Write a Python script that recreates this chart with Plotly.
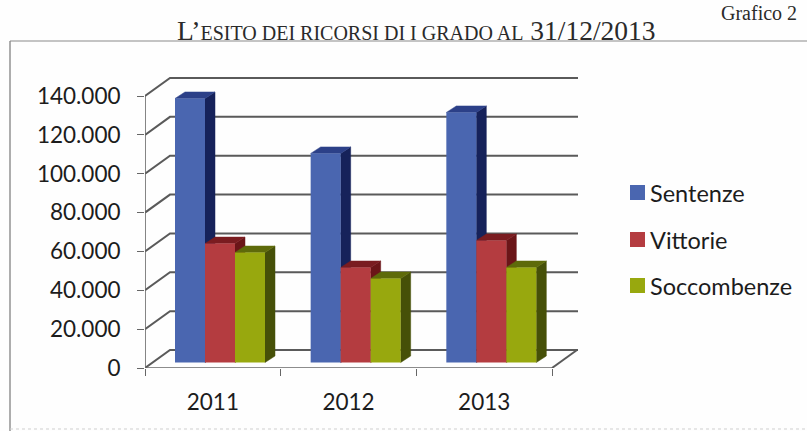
import plotly.graph_objects as go

categories = ["2011", "2012", "2013"]
sentenze = [135900, 107600, 128700]
vittorie = [61200, 48900, 62800]
soccombenze = [56600, 43200, 48900]
y_ticks = [0, 20000, 40000, 60000, 80000, 100000, 120000, 140000]
y_labels = ["0", "20.000", "40.000", "60.000", "80.000", "100.000", "120.000", "140.000"]

series = [
    ("Sentenze", sentenze, "#4A66B0", "#16225A", "#2C4088"),
    ("Vittorie", vittorie, "#B43C40", "#6B1518", "#7A1C20"),
    ("Soccombenze", soccombenze, "#98A80E", "#465008", "#5E6A0A"),
]

L, R, T, B = 145, 578, 76, 368      # plot-area pixel box
CAT = (552 - 145) / 3               # pixels per category
VAL = 272 / 140000                  # pixels per value unit
xr = [0, (R - L) / CAT]
yr = [0, (B - T) / VAL]
wall_dx, wall_dy = 25 / CAT, 18 / VAL
bar_w = 30 / CAT
bar_x0 = 30 / CAT
bar_base = 5.5 / VAL
bar_dx, bar_dy = 10 / CAT, 6.5 / VAL

GRID = "#5a5a5a"
fig = go.Figure()

# walls and floor
gx, gy = [], []
for v in y_ticks:
    gx += [0, wall_dx, xr[1], None]
    gy += [v, v + wall_dy, v + wall_dy, None]
gx += [3, 3 + wall_dx, None]
gy += [0, wall_dy, None]
fig.add_trace(go.Scatter(x=gx, y=gy, mode="lines", line=dict(color=GRID, width=2),
                         hoverinfo="skip", showlegend=False, cliponaxis=False))
fig.add_trace(go.Scatter(x=[0, 0, None, 0, 3], y=[0, y_ticks[-1], None, 0, 0], mode="lines",
                         line=dict(color="#666666", width=1.6),
                         hoverinfo="skip", showlegend=False, cliponaxis=False))


def poly(xs, ys, color):
    fig.add_trace(go.Scatter(x=xs + xs[:1], y=ys + ys[:1], mode="lines", fill="toself",
                             fillcolor=color, line=dict(color=color, width=0.5),
                             hoverinfo="skip", showlegend=False, cliponaxis=False))


# side and top faces, back to front
for c in range(len(categories)):
    for s, (name, vals, front, side, top) in enumerate(series):
        x0 = c + bar_x0 + s * bar_w
        x1 = x0 + bar_w
        y0, y1 = bar_base, bar_base + vals[c]
        poly([x1, x1 + bar_dx, x1 + bar_dx, x1],
             [y0, y0 + bar_dy, y1 + bar_dy, y1], side)
        poly([x0, x1, x1 + bar_dx, x0 + bar_dx],
             [y1, y1, y1 + bar_dy, y1 + bar_dy], top)

# front faces on an overlaying pair of axes, so they cover the side faces
for s, (name, vals, front, side, top) in enumerate(series):
    fig.add_trace(go.Bar(
        x=[c + bar_x0 + (s + 0.5) * bar_w for c in range(len(categories))],
        y=vals, base=[bar_base] * len(vals), width=bar_w, name=name,
        marker=dict(color=front, line=dict(width=0)),
        xaxis="x2", yaxis="y2", showlegend=False))

text_font = dict(family="Lato, 'Noto Sans', sans-serif", size=22.5, color="#1c1c1c")
legend_font = dict(family="Lato, 'Noto Sans', sans-serif", size=23.5, color="#1c1c1c")
fig.update_layout(
    width=807, height=431, margin=dict(l=L, r=807 - R, t=T, b=431 - B),
    paper_bgcolor="#fefefe", plot_bgcolor="rgba(0,0,0,0)", barmode="overlay",
    showlegend=False, font=text_font,
    xaxis=dict(range=xr, showgrid=False, zeroline=False, showline=False,
               tickmode="array", tickvals=[0.5, 1.5, 2.5], ticktext=categories,
               ticks="", ticklabelstandoff=18,
               minor=dict(tickmode="array", tickvals=[0, 1, 2, 3], ticks="outside",
                          ticklen=7, tickwidth=1.2, tickcolor="#666666", showgrid=False)),
    yaxis=dict(range=yr, showgrid=False, zeroline=False, showline=False,
               tickmode="array", tickvals=y_ticks, ticktext=y_labels,
               ticks="outside", ticklen=7, tickwidth=1.2, tickcolor="#666666",
               ticklabelstandoff=12),
    xaxis2=dict(range=xr, overlaying="x", visible=False),
    yaxis2=dict(range=yr, overlaying="y", visible=False),
    shapes=[
        dict(type="line", xref="paper", yref="paper", x0=(10 - L) / (R - L), x1=(807 - L) / (R - L),
             y0=(B - 41) / (B - T), y1=(B - 41) / (B - T), line=dict(color="#8a8a8a", width=1.2)),
        dict(type="line", xref="paper", yref="paper", x0=(10 - L) / (R - L), x1=(10 - L) / (R - L),
             y0=(B - 41) / (B - T), y1=(B - 431) / (B - T), line=dict(color="#8a8a8a", width=1.4)),
        dict(type="line", xref="paper", yref="paper", x0=(10 - L) / (R - L), x1=(807 - L) / (R - L),
             y0=(B - 429) / (B - T), y1=(B - 429) / (B - T),
             line=dict(color="#cfcfcf", width=1, dash="dot")),
    ],
)

# legend drawn to the reference's position, as real text and swatches
leg_y = [193, 240, 286]
for (name, vals, front, side, top), py in zip(series, leg_y):
    fig.add_annotation(xref="paper", yref="paper", x=(648 - L) / (R - L), y=(B - py) / (B - T),
                       text=name, showarrow=False, xanchor="left", yanchor="middle", font=legend_font)
    fig.add_shape(type="rect", xref="paper", yref="paper",
                  x0=(630 - L) / (R - L), x1=(645 - L) / (R - L),
                  y0=(B - py - 7) / (B - T), y1=(B - py + 8) / (B - T),
                  fillcolor=front, line=dict(width=0))

serif = "'Liberation Serif', serif"
small = lambda t: f"<span style='font-size:20px'>{t}</span>"
fig.add_annotation(xref="paper", yref="paper", x=(416 - L) / (R - L), y=(B - 31) / (B - T),
                   text="L’" + small("ESITO DEI RICORSI DI I GRADO AL") + " 31/12/2013",
                   showarrow=False, xanchor="center", yanchor="middle",
                   font=dict(family=serif, size=27.5, color="#2a2a2a"))
fig.add_annotation(xref="paper", yref="paper", x=(799 - L) / (R - L), y=(B - 13) / (B - T),
                   text="Grafico 2", showarrow=False, xanchor="right", yanchor="middle",
                   font=dict(family=serif, size=20, color="#2a2a2a"))

fig.write_html("out.html", config={"displayModeBar": False},
               post_script="document.body.style.margin='0';document.documentElement.style.overflow='hidden';")
